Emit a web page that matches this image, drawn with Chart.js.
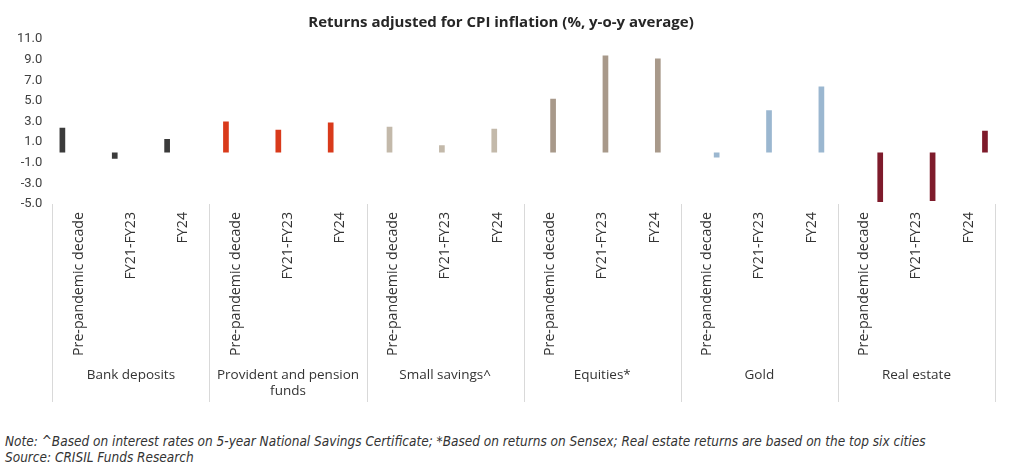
<!DOCTYPE html>
<html lang="en">
  <head>
    <meta charset="UTF-8" />
    <title>Returns adjusted for CPI inflation</title>
    <script src="https://cdn.jsdelivr.net/npm/chart.js"></script>
    <style>
      html, body { margin: 0; padding: 0; background: #fff; }
      #wrap { position: relative; width: 1012px; height: 410px; }
      .note {
        position: absolute;
        left: 5px;
        font-family: "DejaVu Sans Condensed", "DejaVu Sans", sans-serif;
        font-style: italic;
        font-size: 13.5px;
        color: #333;
        white-space: nowrap;
      }
    </style>
  </head>
  <body>
    <div id="wrap"><canvas id="myChart"></canvas></div>
    <div class="note" style="top: 433px;">Note: ^Based on interest rates on 5-year National Savings Certificate; *Based on returns on Sensex; Real estate returns are based on the top six cities</div>
    <div class="note" style="top: 449px;">Source: CRISIL Funds Research</div>

    <script>
      // values (%)
      const periods = ['Pre-pandemic decade', 'FY21-FY23', 'FY24'];
      const groups = ['Bank deposits', ['Provident and pension', 'funds'], 'Small savings^', 'Equities*', 'Gold', 'Real estate'];
      const bankDeposits = [2.4, -0.6, 1.3];
      const providentFunds = [3.0, 2.2, 2.9];
      const smallSavings = [2.5, 0.7, 2.3];
      const equities = [5.2, 9.4, 9.1];
      const gold = [-0.5, 4.1, 6.4];
      const realEstate = [-4.8, -4.7, 2.1];
      const yTicks = [-5, -3, -1, 1, 3, 5, 7, 9, 11];

      const series = [bankDeposits, providentFunds, smallSavings, equities, gold, realEstate];
      const colors = ['#3b3b3b', '#d93a1b', '#c3b9aa', '#a8998a', '#9bb7d0', '#7e1b2b'];

      const labels = [];
      groups.forEach(() => periods.forEach(p => labels.push(p)));

      const datasets = series.map((vals, g) => {
        const data = labels.map(() => null);
        vals.forEach((v, i) => { data[g * periods.length + i] = v; });
        return {
          label: Array.isArray(groups[g]) ? groups[g].join(' ') : groups[g],
          data: data,
          backgroundColor: colors[g],
          barPercentage: 0.88,
          categoryPercentage: 0.74,
        };
      });

      // group separators below the plot
      const separators = {
        id: 'separators',
        afterDraw(chart) {
          const x = chart.scales.x, x2 = chart.scales.x2;
          const step = x.getPixelForValue(1) - x.getPixelForValue(0);
          const ctx = chart.ctx;
          ctx.save();
          ctx.strokeStyle = '#d9d9d9';
          ctx.lineWidth = 1;
          for (let g = 0; g <= groups.length; g++) {
            const px = Math.round(x.getPixelForValue(0) - step / 2 + g * periods.length * step) + 0.5;
            ctx.beginPath();
            ctx.moveTo(px, chart.chartArea.bottom);
            ctx.lineTo(px, x2.bottom);
            ctx.stroke();
          }
          ctx.restore();
        }
      };

      new Chart(document.getElementById('myChart'), {
        type: 'bar',
        data: { labels: labels, datasets: datasets },
        plugins: [separators],
        options: {
          responsive: true,
          maintainAspectRatio: false,
          animation: false,
          layout: { padding: { top: 8, right: 17, bottom: 8, left: 7 } },
          plugins: {
            legend: { display: false },
            tooltip: { enabled: false },
            title: {
              display: true,
              text: 'Returns adjusted for CPI inflation (%, y-o-y average)',
              color: '#262626',
              font: { family: 'Open Sans', size: 15, weight: 'bold' },
              padding: { top: 6, bottom: 7 },
            },
          },
          scales: {
            y: {
              min: -5,
              max: 11,
              afterBuildTicks: scale => { scale.ticks = yTicks.map(v => ({ value: v })); },
              ticks: {
                color: '#404040',
                font: { family: 'Roboto', size: 13 },
                padding: 10,
                callback: v => Number(v).toFixed(1),
              },
              grid: {
                color: ctx => (ctx.tick && ctx.tick.value === 0 ? '#d9d9d9' : 'transparent'),
                lineWidth: 2,
                drawTicks: false,
              },
              border: { display: false },
            },
            x: {
              weight: 0,
              afterFit: scale => { scale.height = 158; },
              ticks: {
                color: '#333',
                font: { family: 'Open Sans', size: 14.2 },
                minRotation: 90,
                maxRotation: 90,
                autoSkip: false,
                padding: 8,
              },
              grid: { display: false, drawTicks: false },
              border: { display: false },
            },
            x2: {
              type: 'category',
              position: 'bottom',
              weight: 1,
              labels: groups,
              offset: true,
              afterFit: scale => { scale.height = 40; },
              ticks: {
                color: '#333',
                font: { family: 'Open Sans', size: 13.5 },
                maxRotation: 0,
                autoSkip: false,
                padding: 5,
              },
              grid: { display: false, drawTicks: false },
              border: { display: false },
            },
          },
        },
      });
    </script>
  </body>
</html>
